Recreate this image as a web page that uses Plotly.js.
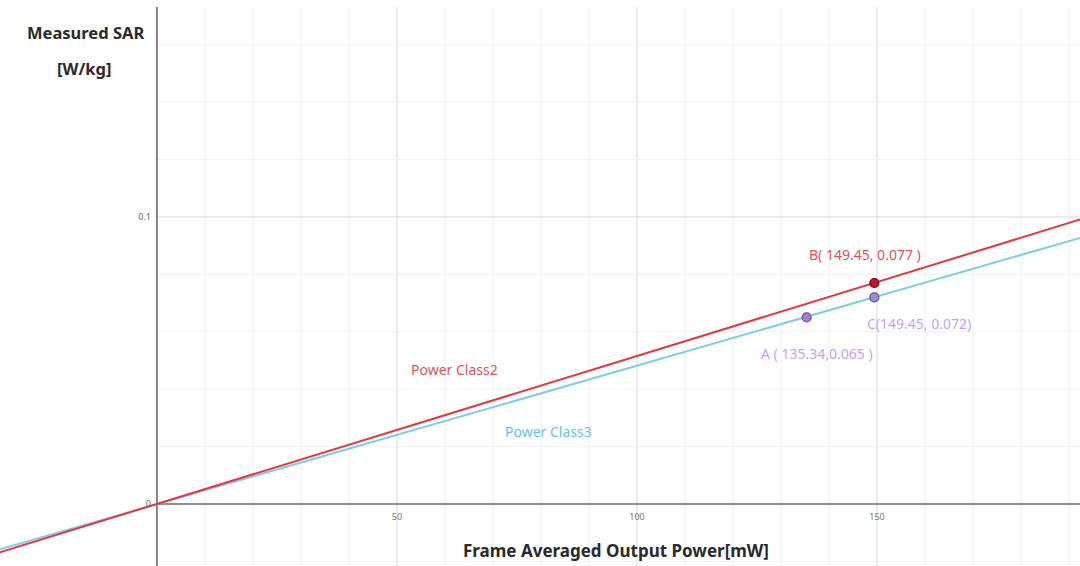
<!DOCTYPE html>
<html>
<head>
<meta charset="utf-8">
<script src="https://cdn.plot.ly/plotly-3.0.1.min.js"></script>
<style>html,body{margin:0;padding:0;background:#fff;}#chart{width:1080px;height:566px;}</style>
</head>
<body>
<div id="chart"></div>
<script>
// Lines
const lineX = [-35, 0, 195];
const class2Y = [-0.018, 0, 0.1005];
const class3Y = [-0.0169, 0, 0.0940];
const lineNames = ["Power Class2", "Power Class3"];

// Marked points
const pointLabels = ["A ( 135.34,0.065 )", "B( 149.45, 0.077 )", "C(149.45, 0.072)"];
const pointX = [135.34, 149.45, 149.45];
const pointY = [0.065, 0.077, 0.072];

// Ticks
const xTickVals = [50, 100, 150];
const xTickText = ["50", "100", "150"];
const yTickVals = [0, 0.1];
const yTickText = ["0", "0.1"];

const xRange = [-32.7, 192.3];
const yRange = [-0.0216, 0.1756];

const FONT = "Noto Sans, Open Sans, sans-serif";

const traces = [
  {x: lineX, y: class3Y, mode: "lines", name: lineNames[1], line: {color: "#7fcde8", width: 2}, hoverinfo: "skip"},
  {x: lineX, y: class2Y, mode: "lines", name: lineNames[0], line: {color: "#e8353f", width: 2}, hoverinfo: "skip"},
  {x: pointX, y: pointY, mode: "markers", name: "points",
   marker: {size: 9, color: ["#a77ad8", "#c8102e", "#9a8fd0"], line: {color: ["#6a4a9a", "#5a0a14", "#55508a"], width: 1.2}}}
];

const lblColors = ["#c4a4ec", "#e0505e", "#c4a4ec"];
const lblShiftX = [10, -9, 45];
const lblShiftY = [-36, 29, -26];

const annotations = [];
for (let i = 0; i < pointX.length; i++) {
  annotations.push({x: pointX[i], y: pointY[i], xref: "x", yref: "y", text: pointLabels[i], showarrow: false,
    xanchor: "center", yanchor: "middle",
    xshift: lblShiftX[i], yshift: lblShiftY[i], font: {family: FONT, size: 14, color: lblColors[i]}});
}
annotations.push({x: 62, y: 0.047, xref: "x", yref: "y", text: lineNames[0], showarrow: false,
  xanchor: "center", yanchor: "middle", font: {family: FONT, size: 14, color: "#e0505e"}});
annotations.push({x: 81.5, y: 0.0251, xref: "x", yref: "y", text: lineNames[1], showarrow: false,
  xanchor: "center", yanchor: "middle", font: {family: FONT, size: 14, color: "#6cc0e4"}});

const titles = [
  {px: 85, py: 33, text: "<b>Measured SAR</b>", size: 16.5},
  {px: 84, py: 69, text: "<b>[W/kg]</b>", size: 16.5},
  {px: 616, py: 550, text: "<b>Frame Averaged Output Power[mW]</b>", size: 17}
];
for (const t of titles) {
  annotations.push({x: t.px / 1080, y: 1 - t.py / 566, xref: "paper", yref: "paper", text: t.text,
    showarrow: false, xanchor: "center", yanchor: "middle", font: {family: FONT, size: t.size, color: "#2a2a2a"}});
}

// Grid (drawn only right of the y axis, like the reference)
const shapes = [];
const topY = yRange[1] - (7 / 566) * (yRange[1] - yRange[0]);
for (let k = 1; k * 10 <= xRange[1]; k++) {
  const v = k * 10;
  const major = (v % 50 === 0);
  shapes.push({type: "line", xref: "x", yref: "y", x0: v, x1: v, y0: yRange[0], y1: topY,
    line: {color: major ? "#d9d9d9" : "#f2f2f2", width: 1}, layer: "below"});
}
for (let k = -1; k * 0.02 <= yRange[1]; k++) {
  const v = +(k * 0.02).toFixed(3);
  if (v === 0 || v < yRange[0]) continue;
  const major = (k % 5 === 0);
  shapes.push({type: "line", xref: "x", yref: "y", x0: 0, x1: xRange[1], y0: v, y1: v,
    line: {color: major ? "#d9d9d9" : "#f2f2f2", width: 1}, layer: "below"});
}
// x axis line (only from the origin to the right)
shapes.push({type: "line", xref: "x", yref: "y", x0: 0, x1: xRange[1], y0: 0, y1: 0,
  line: {color: "#6a6a6a", width: 1.6}, layer: "below"});
// y axis line
shapes.push({type: "line", xref: "x", yref: "y", x0: 0, x1: 0, y0: yRange[0], y1: topY,
  line: {color: "#6a6a6a", width: 1.6}, layer: "below"});

const layout = {
  width: 1080, height: 566,
  margin: {l: 0, r: 0, t: 0, b: 0},
  paper_bgcolor: "#ffffff", plot_bgcolor: "#ffffff",
  showlegend: false,
  xaxis: {
    range: xRange, anchor: "free", position: 62 / 566,
    tickmode: "array", tickvals: xTickVals, ticktext: xTickText,
    ticks: "", ticklabelstandoff: 6,
    tickfont: {family: FONT, size: 9, color: "#777"},
    showgrid: false, zeroline: false, showline: false, fixedrange: true
  },
  yaxis: {
    range: yRange, anchor: "free", position: 157 / 1080,
    tickmode: "array", tickvals: yTickVals, ticktext: yTickText,
    ticks: "", ticklabelstandoff: 6,
    tickfont: {family: FONT, size: 9, color: "#666"},
    showgrid: false, zeroline: false, showline: false, fixedrange: true
  },
  shapes: shapes,
  annotations: annotations
};

Plotly.newPlot("chart", traces, layout, {displayModeBar: false, staticPlot: true});
</script>
</body>
</html>
